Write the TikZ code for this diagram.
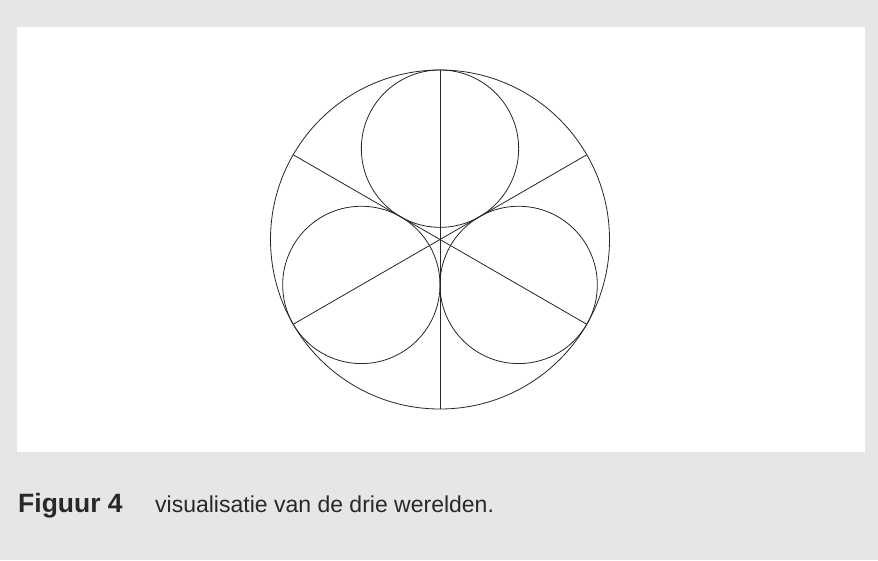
\documentclass[tikz,border=0pt]{standalone}
\usepackage{fontspec}
\setmainfont{Liberation Sans}
\usetikzlibrary{calc}
\definecolor{bggrey}{RGB}{229,230,232}
\definecolor{captcol}{RGB}{40,40,40}
\begin{document}
\begin{tikzpicture}[x=1pt,y=-1pt,
  geo/.style={draw=black!85, line width=0.8pt},
  captxt/.style={anchor=base west, inner sep=0pt, text=captcol}]
\useasboundingbox (0,0) rectangle (878,560);
\fill[bggrey] (0,0) rectangle (878,560);
\fill[white] (17,27) rectangle (865,452);
\coordinate (O) at (440,239.5);
\def\R{169.5}
\pgfmathsetmacro{\r}{\R/(1+2/sqrt(3))}
\pgfmathsetmacro{\d}{\R-\r}
% centres of small circles
\coordinate (Ct) at ($(O)+(-90:\d)$);
\coordinate (Cl) at ($(O)+(150:\d)$);
\coordinate (Cr) at ($(O)+(30:\d)$);
% diameter end points
\coordinate (Et) at ($(O)+(-90:\R)$);
\coordinate (Eb) at ($(O)+(90:\R)$);
\coordinate (Eul) at ($(O)+(-150:\R)$);
\coordinate (Elr) at ($(O)+(30:\R)$);
\coordinate (Eur) at ($(O)+(-30:\R)$);
\coordinate (Ell) at ($(O)+(150:\R)$);
% big circle
\draw[geo] (O) circle[radius=\R];
% three small circles
\draw[geo] (Ct) circle[radius=\r];
\draw[geo] (Cl) circle[radius=\r];
\draw[geo] (Cr) circle[radius=\r];
% diameters
\draw[geo] (Et) -- (Eb);
\draw[geo] (Eul) -- (Elr);
\draw[geo] (Eur) -- (Ell);
% caption
\node[captxt, font=\fontsize{26.5}{30}\selectfont\bfseries] (fig) at (18,512) {Figuur 4};
\node[captxt, font=\fontsize{23}{27}\selectfont] (cap) at (155,512) {visualisatie van de drie werelden.};
\end{tikzpicture}
\end{document}
